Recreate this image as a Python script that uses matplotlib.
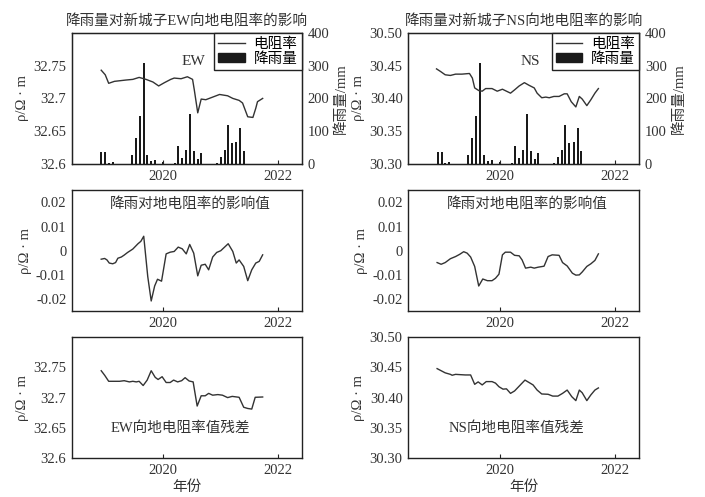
import matplotlib
matplotlib.use('Agg')
import matplotlib.pyplot as plt
from matplotlib.lines import Line2D
from matplotlib.patches import Patch

plt.rcParams['font.family'] = ['Liberation Serif', 'Noto Sans CJK SC']
plt.rcParams['axes.unicode_minus'] = False
plt.rcParams['font.size'] = 10.5

# 降雨量（月）
rain_t = [2018.93, 2019.00, 2019.06, 2019.13, 2019.46, 2019.53, 2019.60, 2019.67,
          2019.73, 2019.80, 2019.87, 2020.01, 2020.21, 2020.27, 2020.34, 2020.41,
          2020.48, 2020.54, 2020.61, 2020.67, 2020.94, 2021.01, 2021.08, 2021.14,
          2021.21, 2021.28, 2021.35, 2021.41]
rain = [38, 38, 3, 5, 28, 79, 147, 308, 27, 8, 12, 5, 4, 54, 18, 42, 152, 40, 14, 33,
        4, 20, 43, 120, 65, 67, 110, 40]

# EW 电阻率
ew_t = [2018.93, 2019.00, 2019.06, 2019.16, 2019.36, 2019.48, 2019.59, 2019.71, 2019.83,
        2019.93, 2020.03, 2020.14, 2020.20, 2020.32, 2020.43, 2020.52, 2020.55, 2020.61,
        2020.67, 2020.75, 2020.87, 2020.99, 2021.13, 2021.22, 2021.33, 2021.39, 2021.48,
        2021.57, 2021.62, 2021.65, 2021.74]
ew = [32.743, 32.736, 32.723, 32.726, 32.728, 32.729, 32.732, 32.729, 32.725, 32.719,
      32.724, 32.729, 32.731, 32.730, 32.733, 32.729, 32.713, 32.678, 32.699, 32.698,
      32.702, 32.706, 32.704, 32.700, 32.697, 32.693, 32.672, 32.671, 32.685, 32.695,
      32.700]

# NS 电阻率
ns_t = [2018.91, 2018.98, 2019.06, 2019.15, 2019.24, 2019.35, 2019.48, 2019.53, 2019.57,
        2019.64, 2019.70, 2019.76, 2019.87, 2019.96, 2020.05, 2020.12, 2020.19, 2020.26,
        2020.34, 2020.43, 2020.51, 2020.60, 2020.65, 2020.73, 2020.80, 2020.86, 2020.94,
        2021.03, 2021.12, 2021.17, 2021.24, 2021.32, 2021.38, 2021.43, 2021.51, 2021.58,
        2021.65, 2021.71]
ns = [30.445, 30.441, 30.436, 30.435, 30.437, 30.437, 30.438, 30.431, 30.416, 30.412,
      30.411, 30.415, 30.415, 30.411, 30.414, 30.411, 30.408, 30.413, 30.419, 30.424,
      30.420, 30.416, 30.408, 30.401, 30.402, 30.401, 30.403, 30.403, 30.407, 30.407,
      30.395, 30.387, 30.403, 30.399, 30.389, 30.398, 30.408, 30.415]

# 降雨影响值 EW
ew_eff_t = [2018.93, 2018.99, 2019.03, 2019.07, 2019.13, 2019.18, 2019.22, 2019.28, 2019.33,
            2019.39, 2019.48, 2019.57, 2019.62, 2019.67, 2019.74, 2019.80, 2019.86, 2019.91,
            2019.98, 2020.06, 2020.13, 2020.20, 2020.27, 2020.34, 2020.41, 2020.47, 2020.54,
            2020.61, 2020.67, 2020.74, 2020.80, 2020.87, 2020.94, 2021.01, 2021.14, 2021.22,
            2021.28, 2021.33, 2021.41, 2021.48, 2021.55, 2021.62, 2021.68, 2021.74]
ew_eff = [-0.0035, -0.0032, -0.0038, -0.0051, -0.0054, -0.0049, -0.0031, -0.0026, -0.0018,
          -0.0007, 0.0007, 0.0029, 0.0039, 0.0060, -0.0107, -0.0208, -0.0146, -0.0118,
          -0.0126, -0.0013, -0.0006, -0.0003, 0.0015, 0.0008, -0.0013, 0.0026, -0.0010,
          -0.0104, -0.0060, -0.0056, -0.0079, -0.0026, -0.0007, 0.0000, 0.0029, -0.0003,
          -0.0051, -0.0038, -0.0065, -0.0124, -0.0079, -0.0051, -0.0044, -0.0017]

# 降雨影响值 NS
ns_eff_t = [2018.92, 2018.99, 2019.06, 2019.15, 2019.24, 2019.31, 2019.38, 2019.44, 2019.50,
            2019.57, 2019.64, 2019.71, 2019.79, 2019.87, 2019.93, 2019.99, 2020.05, 2020.10,
            2020.19, 2020.26, 2020.34, 2020.39, 2020.45, 2020.54, 2020.60, 2020.67, 2020.77,
            2020.84, 2020.91, 2021.03, 2021.09, 2021.17, 2021.26, 2021.32, 2021.38, 2021.43,
            2021.51, 2021.58, 2021.65, 2021.71]
ns_eff = [-0.0049, -0.0056, -0.0049, -0.0033, -0.0024, -0.0015, -0.0004, -0.0010, -0.0026,
          -0.0065, -0.0146, -0.0117, -0.0124, -0.0124, -0.0114, -0.0097, -0.0017, -0.0006,
          -0.0006, -0.0019, -0.0021, -0.0038, -0.0072, -0.0068, -0.0072, -0.0068, -0.0064,
          -0.0024, -0.0017, -0.0019, -0.0049, -0.0063, -0.0093, -0.0101, -0.0100, -0.0088,
          -0.0065, -0.0054, -0.0040, -0.0013]

# 残差 EW
ew_res_t = [2018.93, 2018.99, 2019.06, 2019.13, 2019.25, 2019.33, 2019.42, 2019.48, 2019.54,
            2019.59, 2019.66, 2019.73, 2019.80, 2019.87, 2019.92, 2019.99, 2020.06, 2020.13,
            2020.19, 2020.26, 2020.33, 2020.39, 2020.46, 2020.53, 2020.60, 2020.67, 2020.74,
            2020.80, 2020.87, 2020.96, 2021.04, 2021.13, 2021.21, 2021.33, 2021.41, 2021.48,
            2021.55, 2021.61, 2021.74]
ew_res = [32.7445, 32.737, 32.727, 32.727, 32.727, 32.728, 32.726, 32.727, 32.726, 32.727,
          32.720, 32.729, 32.7445, 32.7335, 32.730, 32.7346, 32.725, 32.725, 32.729, 32.726,
          32.728, 32.733, 32.7275, 32.726, 32.686, 32.703, 32.703, 32.707, 32.704, 32.705,
          32.704, 32.700, 32.702, 32.7005, 32.684, 32.682, 32.681, 32.7005, 32.701]

# 残差 NS
ns_res_t = [2018.92, 2018.99, 2019.06, 2019.15, 2019.18, 2019.24, 2019.32, 2019.41, 2019.50,
            2019.57, 2019.63, 2019.70, 2019.77, 2019.87, 2019.93, 2019.99, 2020.06, 2020.12,
            2020.19, 2020.26, 2020.34, 2020.44, 2020.51, 2020.58, 2020.65, 2020.73, 2020.84,
            2020.92, 2021.01, 2021.09, 2021.17, 2021.25, 2021.32, 2021.38, 2021.43, 2021.51,
            2021.58, 2021.65, 2021.71]
ns_res = [30.448, 30.4445, 30.441, 30.4385, 30.437, 30.4385, 30.438, 30.4375, 30.4375,
          30.422, 30.426, 30.421, 30.4265, 30.4265, 30.424, 30.418, 30.414, 30.4145, 30.407,
          30.411, 30.419, 30.429, 30.425, 30.421, 30.4125, 30.406, 30.4055, 30.4025, 30.4025,
          30.407, 30.4125, 30.4015, 30.395, 30.4125, 30.408, 30.395, 30.4045, 30.4125, 30.416]

ew_ticks = [32.6, 32.65, 32.7, 32.75]
ew_ticklabels = ['32.6', '32.65', '32.7', '32.75']
ns_ticks = [30.30, 30.35, 30.40, 30.45, 30.50]
ns_ticklabels = ['30.30', '30.35', '30.40', '30.45', '30.50']
eff_ticks = [-0.02, -0.01, 0, 0.01, 0.02]
eff_ticklabels = ['-0.02', '-0.01', '0', '0.01', '0.02']
rain_ticks = [0, 100, 200, 300, 400]

line_c = '#333333'
text_c = '#333333'
ylab = 'ρ/Ω · m'

fig = plt.figure(figsize=(7.05, 4.97), dpi=100)

lefts = [0.102, 0.579]
widths = [0.326, 0.328]


def style(ax):
    for s in ax.spines.values():
        s.set_color('#222222')
        s.set_linewidth(1.0)
    ax.set_xlim(2018.42, 2022.42)
    ax.set_xticks([2020, 2022])
    ax.tick_params(axis='x', direction='in', length=3, colors='#222222', labelcolor=text_c, pad=4)
    ax.tick_params(axis='y', length=0, labelcolor=text_c, pad=4)


# ---- 顶部：降雨量与电阻率 ----
for i, (t, v, name, ticks, labels, ylim) in enumerate([
        (ew_t, ew, 'EW', ew_ticks, ew_ticklabels, (32.6, 32.8)),
        (ns_t, ns, 'NS', ns_ticks, ns_ticklabels, (30.30, 30.50))]):
    ax = fig.add_axes([lefts[i], 0.670, widths[i], 0.264])
    style(ax)
    ax2 = ax.twinx()
    ax2.bar(rain_t, rain, width=0.035, color='#1a1a1a')
    ax2.set_ylim(0, 400)
    ax2.set_yticks(rain_ticks)
    ax2.tick_params(axis='y', length=0, labelcolor=text_c, pad=4)
    ax2.set_ylabel('降雨量/mm', color=text_c, labelpad=4)
    ax.plot(t, v, color=line_c, lw=1.0, zorder=3)
    ax.set_zorder(ax2.get_zorder() + 1)
    ax.patch.set_visible(False)
    ax.set_ylim(*ylim)
    ax.set_yticks(ticks)
    ax.set_yticklabels(labels)
    ax.set_ylabel(ylab, color=text_c, labelpad=3)
    ax.set_title('降雨量对新城子%s向地电阻率的影响' % name, color=text_c, fontsize=10.5, pad=6)
    ax.text(0.53, 0.78, name, transform=ax.transAxes, ha='center', va='center',
            color=text_c, fontsize=11)
    handles = [Line2D([0], [0], color=line_c, lw=1.0),
               Patch(facecolor='#1a1a1a', edgecolor='#1a1a1a')]
    leg = ax.legend(handles, ['电阻率', '降雨量'], loc='upper right', borderaxespad=0,
                    fancybox=False, framealpha=1, edgecolor='#222222', fontsize=10.5,
                    handlelength=1.8, handleheight=0.6, labelspacing=0.1,
                    borderpad=0.3, handletextpad=0.6)
    leg.get_frame().set_linewidth(1.0)

# ---- 中部：降雨影响值 ----
for i, (t, v) in enumerate([(ew_eff_t, ew_eff), (ns_eff_t, ns_eff)]):
    ax = fig.add_axes([lefts[i], 0.374, widths[i], 0.243])
    style(ax)
    ax.plot(t, v, color=line_c, lw=1.0)
    ax.set_ylim(-0.025, 0.025)
    ax.set_yticks(eff_ticks)
    ax.set_yticklabels(eff_ticklabels)
    ax.set_ylabel(ylab, color=text_c, labelpad=3)
    ax.text(0.515, 0.89, '降雨对地电阻率的影响值', transform=ax.transAxes, ha='center',
            va='center', color=text_c, fontsize=10.5)

# ---- 底部：残差 ----
for i, (t, v, name, ticks, labels, ylim) in enumerate([
        (ew_res_t, ew_res, 'EW', ew_ticks, ew_ticklabels, (32.6, 32.8)),
        (ns_res_t, ns_res, 'NS', ns_ticks, ns_ticklabels, (30.30, 30.50))]):
    ax = fig.add_axes([lefts[i], 0.0785, widths[i], 0.243])
    style(ax)
    ax.plot(t, v, color=line_c, lw=1.0)
    ax.set_ylim(*ylim)
    ax.set_yticks(ticks)
    ax.set_yticklabels(labels)
    ax.set_ylabel(ylab, color=text_c, labelpad=3)
    ax.set_xlabel('年份', color=text_c, labelpad=3)
    ax.text(0.47, 0.25, '%s向地电阻率值残差' % name, transform=ax.transAxes, ha='center',
            va='center', color=text_c, fontsize=10.5)

fig.savefig('out.png', dpi=100)
